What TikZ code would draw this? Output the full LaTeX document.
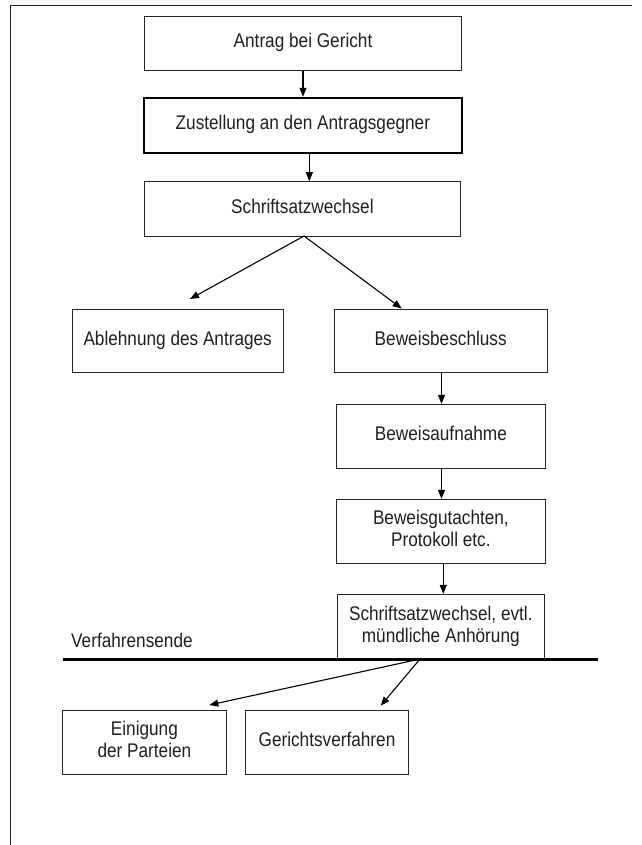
\documentclass[tikz,border=0pt]{standalone}
\usepackage{fontspec}
\usepackage{graphicx}
\setmainfont{Liberation Sans}
\usetikzlibrary{arrows.meta}
% box text: centred lines, slightly stretched vertically
\newcommand{\boxtext}[1]{\scalebox{1}[1.15]{\begin{tabular}{@{}c@{}}#1\end{tabular}}}
\begin{document}
\begin{tikzpicture}[x=1pt,y=-1pt,
  box/.style={draw=black!85, line width=1pt, inner sep=0pt,
    font=\fontsize{17.2}{19.1}\selectfont, text=black!88},
  thickbox/.style={box, draw=black, line width=1.8pt},
  arr/.style={draw=black, line width=1.1pt, -{Triangle[length=9pt,width=7pt]}},
  rule/.style={line width=3.3pt}]
\useasboundingbox (0,0) rectangle (641,845);

% page frame
\coordinate (fa) at (10,845);
\coordinate (fb) at (10,6);
\coordinate (fc) at (632,6);
\draw[line width=1pt, black!85] (fa) -- (fb) -- (fc);

% main column
\node[box, minimum width=317.4pt, minimum height=53.3pt] (n1) at (303,43.6) {\boxtext{Antrag bei Gericht}};
\node[thickbox, minimum width=317.7pt, minimum height=55pt] (n2) at (302.9,125.2) {\boxtext{Zustellung an den Antragsgegner}};
\node[box, minimum width=316.7pt, minimum height=54.3pt] (n3) at (302.4,208.9) {\boxtext{Schriftsatzwechsel}};

% branches
\node[box, minimum width=211.3pt, minimum height=63.4pt] (n4) at (177.7,341) {\boxtext{Ablehnung des Antrages}};
\node[box, minimum width=212.7pt, minimum height=63.4pt] (n5) at (440.7,341) {\boxtext{Beweisbeschluss}};
\node[box, minimum width=208.3pt, minimum height=64pt] (n6) at (440.9,436.3) {\boxtext{Beweisaufnahme}};
\node[box, minimum width=208.3pt, minimum height=64pt] (n7) at (440.9,531.3) {\boxtext{Beweisgutachten,\\Protokoll etc.}};
\node[box, minimum width=207pt, minimum height=64.7pt] (n8) at (440.8,626.7) {\boxtext{Schriftsatzwechsel, evtl.\\mündliche Anhörung}};

% outcomes
\node[box, minimum width=163.3pt, minimum height=63.6pt] (n9) at (144.4,742.5) {\boxtext{Einigung\\der Parteien}};
\node[box, minimum width=162.6pt, minimum height=63.6pt] (n10) at (327,742.5) {\boxtext{Gerichtsverfahren}};

% end-of-procedure rule
\coordinate (r1) at (62.7,659.3);
\coordinate (r2) at (598.3,659.3);
\draw[rule] (r1) -- (r2);
\node[anchor=base west, inner sep=0pt, font=\fontsize{17.2}{19.1}\selectfont, text=black!88]
  (ende) at (71,647.7) {\scalebox{1}[1.15]{Verfahrensende}};

% connectors
\coordinate (c1) at (303,0);
\coordinate (c2) at (309.3,0);
\coordinate (c5) at (441.5,0);
\coordinate (c7) at (443.3,0);
\draw[arr] (n1.south -| c1) -- (n2.north -| c1);
\draw[arr] (n2.south -| c2) -- (n3.north -| c2);

\coordinate (s3) at (304,236);
\coordinate (t4) at (190,299);
\coordinate (t5) at (401.7,308.5);
\draw[arr] (s3) -- (t4);
\draw[arr] (s3) -- (t5);

\draw[arr] (n5.south -| c5) -- (n6.north -| c5);
\draw[arr] (n6.south -| c5) -- (n7.north -| c5);
\draw[arr] (n7.south -| c7) -- (n8.north -| c7);

\coordinate (s8) at (420,659);
\coordinate (t9) at (209.3,705);
\coordinate (t10) at (380.7,705.7);
\draw[arr] (s8) -- (t9);
\draw[arr] (s8) -- (t10);
\end{tikzpicture}
\end{document}
